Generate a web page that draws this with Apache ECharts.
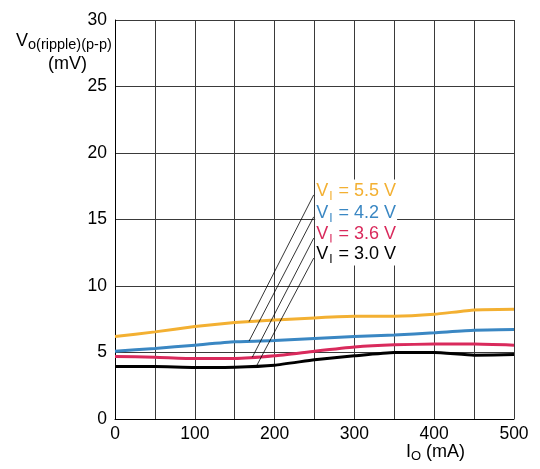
<!DOCTYPE html>
<html><head><meta charset="utf-8">
<script src="https://cdn.jsdelivr.net/npm/echarts@6/dist/echarts.min.js"></script>
<style>html,body{margin:0;padding:0;background:#fff}#c{width:540px;height:469px}</style>
</head><body><div id="c"></div>
<script>
var currents = [0, 50, 100, 150, 200, 250, 300, 350, 400, 450, 500];
var v55 = [6.2, 6.55, 6.95, 7.25, 7.45, 7.6, 7.72, 7.72, 7.87, 8.2, 8.25];
var v42 = [5.1, 5.3, 5.55, 5.8, 5.9, 6.05, 6.2, 6.32, 6.48, 6.67, 6.72];
var v36 = [4.7, 4.65, 4.55, 4.55, 4.75, 5.1, 5.42, 5.58, 5.63, 5.63, 5.55];
var v30 = [3.95, 3.95, 3.88, 3.9, 4.05, 4.45, 4.75, 5.0, 5.0, 4.8, 4.85];
var seriesNames = ['5.5 V', '4.2 V', '3.6 V', '3.0 V'];
var seriesColors = ['#f3b032', '#3a87c3', '#d92a5c', '#000000'];
// leader lines: [label point, curve point] in data coords
var leaderTop = [[249, 16.85], [249, 15.2], [249, 13.6], [249, 12.1]];
var leaderBottom = [[168, 7.32], [168, 5.86], [172, 4.64], [178, 4.06]];
var xTicks = [0, 100, 200, 300, 400, 500];
var yTicks = [0, 5, 10, 15, 20, 25, 30];

function pairs(ys) { return currents.map(function (x, i) { return [x, ys[i]]; }); }
var curveData = [v55, v42, v36, v30];
var series = [];
curveData.forEach(function (d, i) {
  series.push({
    type: 'line', data: pairs(d), showSymbol: false, smooth: 0.15,
    lineStyle: { color: seriesColors[i], width: 3 }, z: 5, silent: true
  });
});
leaderTop.forEach(function (t, i) {
  series.push({
    type: 'line', data: [leaderBottom[i], t], showSymbol: false, symbol: 'none',
    lineStyle: { color: '#000', width: 0.8 }, z: 6, silent: true,
    markPoint: {
      symbol: 'circle', symbolSize: 1, silent: true,
      itemStyle: { color: 'transparent' },
      data: [{ coord: t }],
      label: {
        show: true, position: 'right', distance: 1, offset: [0, -4],
        formatter: '{v|V}{s|I}{v| = ' + seriesNames[i] + '}',
        backgroundColor: '#fff', padding: [0, 1, 0, 1],
        rich: {
          v: { fontSize: 18, color: seriesColors[i], fontFamily: 'Liberation Sans, Arial' },
          s: { fontSize: 12, color: seriesColors[i], fontFamily: 'Liberation Sans, Arial', verticalAlign: 'bottom', padding: [11, 1, 0, 1] }
        }
      }
    }
  });
});

var chart = echarts.init(document.getElementById('c'));
chart.setOption({
  animation: false,
  grid: { left: 115, right: 26, top: 20, bottom: 50 },
  xAxis: {
    type: 'value', min: 0, max: 500, interval: 50,
    axisLine: { lineStyle: { color: '#000', width: 1 } },
    axisTick: { show: false },
    splitLine: { show: true, lineStyle: { color: '#3a3a3a', width: 1 } },
    axisLabel: {
      color: '#000', fontSize: 17.5, fontFamily: 'Liberation Sans, Arial', margin: 6,
      formatter: function (v) { return xTicks.indexOf(v) >= 0 ? String(v) : ''; }
    }
  },
  yAxis: {
    type: 'value', min: 0, max: 30, interval: 5,
    axisLine: { show: true, lineStyle: { color: '#000', width: 1 } },
    axisTick: { show: false },
    splitLine: { show: true, lineStyle: { color: '#3a3a3a', width: 1 } },
    axisLabel: {
      color: '#000', fontSize: 17.5, fontFamily: 'Liberation Sans, Arial', margin: 8,
      formatter: function (v) { return yTicks.indexOf(v) >= 0 ? String(v) : ''; }
    }
  },
  graphic: [
    {
      type: 'text', left: 16, top: 32,
      style: {
        text: '{v|V}{s|o(ripple)(p-p)}',
        rich: {
          v: { fontSize: 18, fill: '#000', fontFamily: 'Liberation Sans, Arial' },
          s: { fontSize: 14.5, fill: '#000', fontFamily: 'Liberation Sans, Arial', padding: [7, 0, 0, 0], verticalAlign: 'bottom' }
        }
      }
    },
    {
      type: 'text', left: 48, top: 55,
      style: { text: '(mV)', fontSize: 18, fill: '#000', fontFamily: 'Liberation Sans, Arial' }
    },
    {
      type: 'text', left: 406, top: 443,
      style: {
        text: '{v|I}{s|O}{v| (mA)}',
        rich: {
          v: { fontSize: 18, fill: '#000', fontFamily: 'Liberation Sans, Arial' },
          s: { fontSize: 13, fill: '#000', fontFamily: 'Liberation Sans, Arial', padding: [9, 0, 0, 0], verticalAlign: 'bottom' }
        }
      }
    }
  ],
  series: series
});
</script></body></html>
